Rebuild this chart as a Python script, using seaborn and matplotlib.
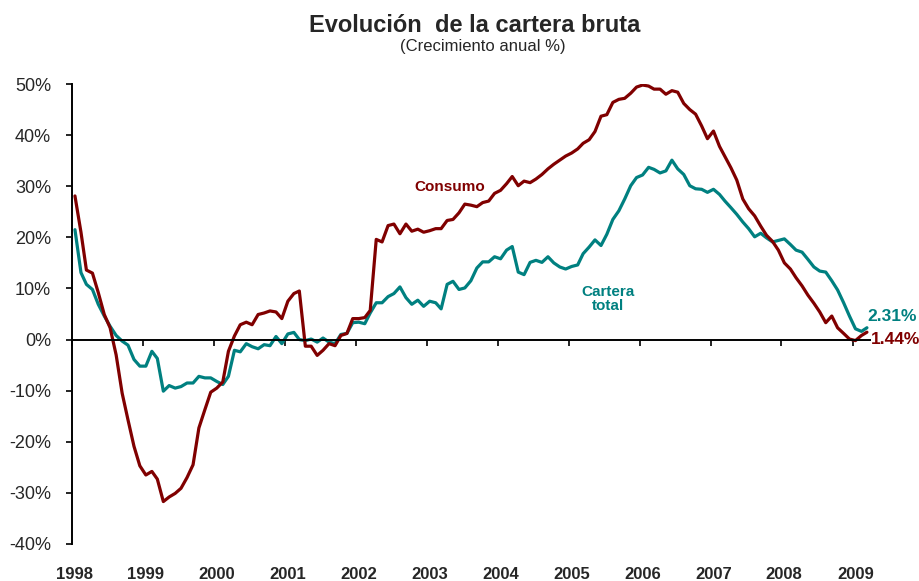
import pandas as pd
import seaborn as sns
import matplotlib.pyplot as plt
import matplotlib.dates as mdates
import matplotlib.ticker as ticker
import matplotlib.transforms as mtransforms

# ---------------------------
# DATA (annual growth %, monthly, Jan 1998 - Mar 2009)
# ---------------------------
consumo = [
    28.1, 21.0, 13.6, 13.0, 9.2, 4.9, 2.3, -3.0, -10.5, -15.7, -20.9, -24.7,
    -26.5, -25.8, -27.3, -31.7, -30.8, -30.1, -29.1, -27.0, -24.5, -17.3, -13.7, -10.3,
    -9.5, -8.3, -2.3, 0.7, 2.9, 3.4, 2.9, 4.9, 5.2, 5.6, 5.4, 4.1,
    7.5, 9.0, 9.5, -1.3, -1.3, -3.1, -2.1, -0.8, -1.2, 0.8, 1.2, 4.1,
    4.1, 4.3, 5.7, 19.6, 19.1, 22.3, 22.6, 20.7, 22.6, 21.2, 21.6, 21.0,
    21.3, 21.7, 21.7, 23.3, 23.5, 24.8, 26.5, 26.3, 26.0, 26.8, 27.1, 28.6,
    29.2, 30.5, 31.9, 30.1, 31.0, 30.7, 31.4, 32.3, 33.4, 34.3, 35.1, 35.9,
    36.5, 37.3, 38.4, 39.1, 40.7, 43.7, 44.0, 46.4, 47.0, 47.2, 48.2, 49.4,
    49.8, 49.6, 49.0, 49.0, 48.0, 48.7, 48.4, 46.2, 45.0, 44.1, 41.8, 39.3,
    40.8, 37.8, 35.8, 33.6, 31.2, 27.5, 25.6, 24.2, 22.2, 20.4, 19.2, 17.5,
    15.0, 13.8, 12.1, 10.5, 8.7, 7.1, 5.4, 3.3, 4.6, 2.3, 1.2, 0.1,
    -0.2, 0.8, 1.44,
]
cartera_total = [
    21.5, 13.1, 10.8, 9.8, 6.9, 4.6, 2.6, 0.8, -0.3, -1.1, -3.9, -5.2,
    -5.2, -2.3, -3.7, -10.1, -9.0, -9.5, -9.2, -8.5, -8.5, -7.2, -7.5, -7.5,
    -8.2, -8.8, -7.2, -2.1, -2.4, -0.8, -1.4, -1.8, -1.0, -1.2, 0.6, -0.8,
    1.1, 1.4, 0.0, -0.2, 0.1, -0.5, 0.3, -0.5, -0.8, 1.0, 1.2, 3.3,
    3.4, 3.1, 5.2, 7.2, 7.2, 8.4, 9.0, 10.3, 8.2, 6.9, 7.7, 6.5,
    7.5, 7.2, 6.0, 10.8, 11.4, 9.8, 10.1, 11.5, 14.0, 15.2, 15.2, 16.2,
    15.8, 17.5, 18.2, 13.2, 12.7, 15.1, 15.5, 15.1, 16.2, 15.0, 14.2, 13.8,
    14.3, 14.6, 16.8, 18.1, 19.5, 18.4, 20.6, 23.5, 25.2, 27.5, 30.1, 31.7,
    32.2, 33.7, 33.3, 32.6, 33.0, 35.1, 33.4, 32.3, 30.1, 29.5, 29.4, 28.8,
    29.4, 28.4, 27.1, 25.8, 24.5, 23.0, 21.7, 20.1, 20.8, 19.9, 19.1, 19.4,
    19.7, 18.6, 17.5, 17.1, 15.7, 14.2, 13.4, 13.2, 11.5, 9.7, 7.2, 4.6,
    2.1, 1.6, 2.31,
]
years = list(range(1998, 2010))
yticks = list(range(-40, 51, 10))

fechas = pd.date_range("1998-01-01", periods=len(consumo), freq="MS") + pd.Timedelta(days=15)

df = pd.DataFrame({
    "Fecha": list(fechas) * 2,
    "Crecimiento": consumo + cartera_total,
    "Serie": ["Consumo"] * len(consumo) + ["Cartera total"] * len(cartera_total),
})

RED = "#800000"
TEAL = "#008080"

# ---------------------------
# PLOT
# ---------------------------
sns.set_style("white")
plt.rcParams["font.family"] = ["Liberation Sans", "DejaVu Sans"]

fig = plt.figure(figsize=(9.2, 5.81), dpi=100)
ax = fig.add_axes([0.0783, 0.0637, 0.8674, 0.7917])

sns.lineplot(
    data=df, x="Fecha", y="Crecimiento", hue="Serie",
    hue_order=["Cartera total", "Consumo"],
    palette={"Consumo": RED, "Cartera total": TEAL},
    linewidth=2.3, legend=False, ax=ax
)

ax.set_xlim(pd.Timestamp("1998-01-01"), pd.Timestamp("2009-04-01"))
ax.set_ylim(-40, 50)
ax.set_xlabel("")
ax.set_ylabel("")

# axes look
for s in ["top", "right"]:
    ax.spines[s].set_visible(False)
ax.spines["bottom"].set_position(("data", 0))
ax.spines["bottom"].set_linewidth(1.4)
ax.spines["left"].set_linewidth(1.4)
ax.spines["bottom"].set_color("black")
ax.spines["left"].set_color("black")

ax.xaxis.set_major_locator(mdates.YearLocator())
ax.xaxis.set_major_formatter(ticker.NullFormatter())
ax.tick_params(axis="x", direction="out", length=4, width=1.2, color="black", bottom=True)
ax.set_yticks(yticks)
ax.yaxis.set_major_formatter(ticker.FuncFormatter(lambda v, pos: f"{v:.0f}%"))
ax.tick_params(axis="y", direction="out", length=4, width=1.2, color="black",
               left=True, labelsize=13, pad=11)

# year labels at the bottom
trans = mtransforms.blended_transform_factory(ax.transData, ax.transAxes)
for y in years:
    ax.text(pd.Timestamp(f"{y}-01-15"), -0.067, str(y), transform=trans,
            ha="center", va="center", fontsize=12, fontweight="bold")

# series labels
ax.text(pd.Timestamp("2003-05-01"), 29.8, "Consumo", color=RED,
        ha="center", va="center", fontsize=11, fontweight="bold")
ax.text(pd.Timestamp("2005-07-20"), 8.0, "Cartera\ntotal", color=TEAL,
        ha="center", va="center", fontsize=11, fontweight="bold", linespacing=1.0)
ax.text(pd.Timestamp("2009-03-18"), 4.6, f"{cartera_total[-1]:.2f}%", color=TEAL,
        ha="left", va="center", fontsize=12.5, fontweight="bold", clip_on=False)
ax.text(pd.Timestamp("2009-04-03"), 0.0, f"{consumo[-1]:.2f}%", color=RED,
        ha="left", va="center", fontsize=12.5, fontweight="bold", clip_on=False)

# titles
fig.text(0.516, 1 - 25 / 581, "Evolución  de la cartera bruta", ha="center", va="center",
         fontsize=17, fontweight="bold")
fig.text(0.525, 1 - 47 / 581, "(Crecimiento anual %)", ha="center", va="center",
         fontsize=12)

plt.savefig("out.png", dpi=100)
